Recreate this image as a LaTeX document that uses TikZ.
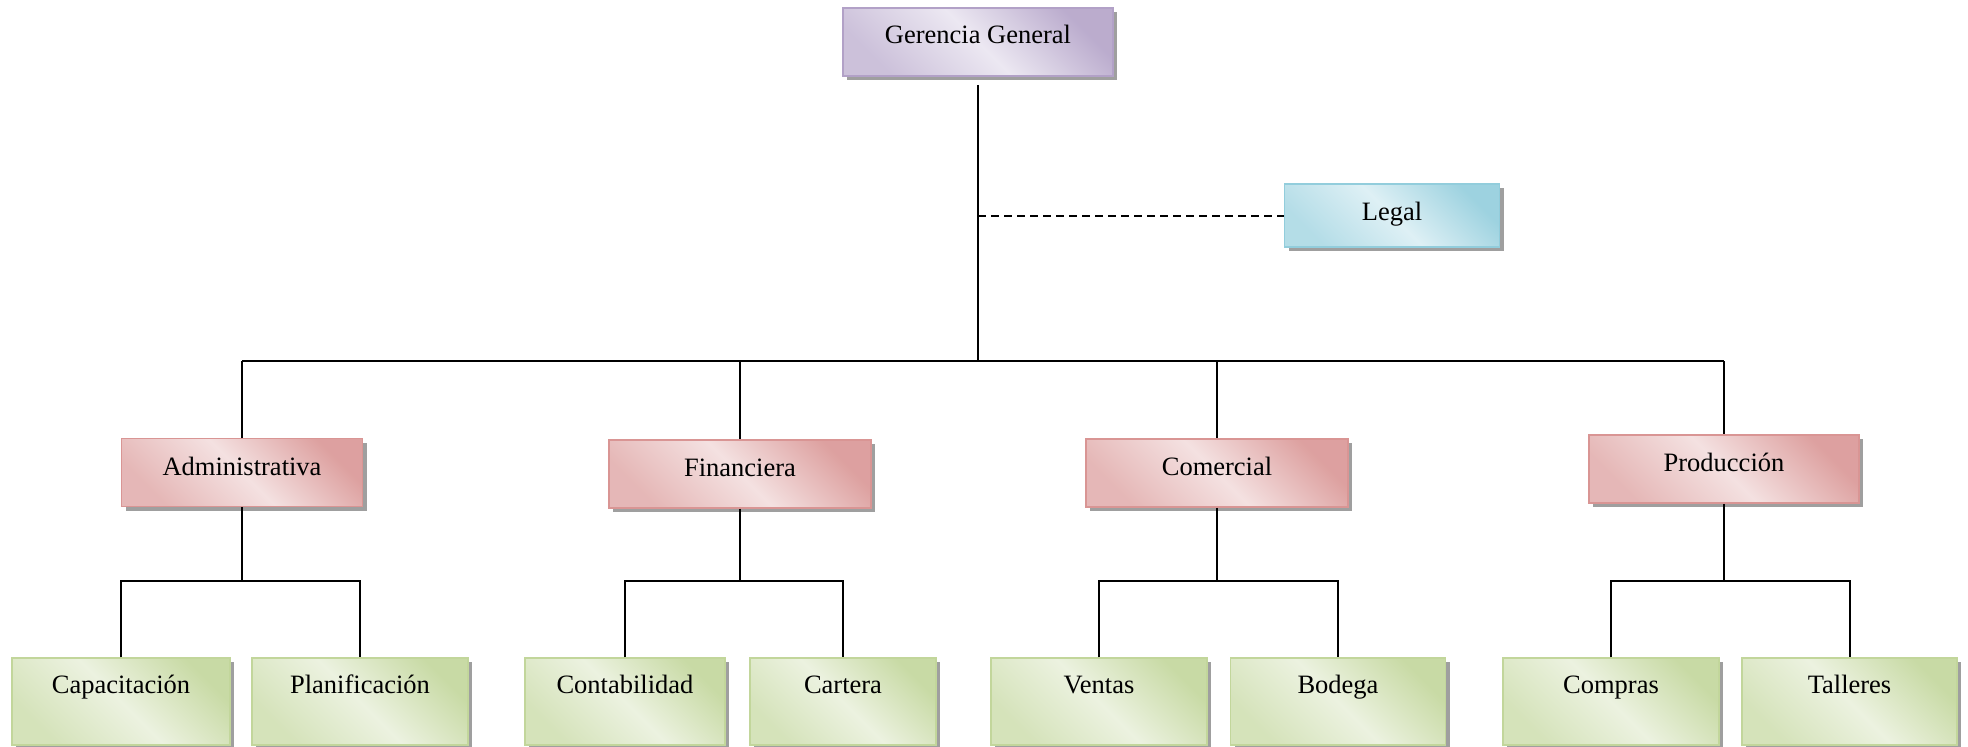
\documentclass[tikz,border=0pt]{standalone}
\usepackage{fontspec}
\setmainfont{Liberation Serif}
\usetikzlibrary{shadows}

\definecolor{purD}{HTML}{B2A1C7}\definecolor{purL}{HTML}{ECE8F2}
\definecolor{pnkD}{HTML}{D99594}\definecolor{pnkL}{HTML}{F4E1E1}
\definecolor{bluD}{HTML}{92CDDC}\definecolor{bluL}{HTML}{DEF0F5}
\definecolor{grnD}{HTML}{C2D69B}\definecolor{grnL}{HTML}{ECF2E0}

\tikzset{
  orgbox/.style 2 args={draw=#1, line width=1.5pt, shading=axis,
    top color=#1!85!#2, bottom color=#1!55!#2, middle color=#2, shading angle=-45,
    drop shadow={shadow xshift=4pt, shadow yshift=-4pt, fill=gray!75, opacity=1},
    inner sep=0pt, font=\fontsize{26.5}{30}\selectfont},
  topbox/.style={orgbox={purD}{purL}, text height=18pt, text depth=16pt},
  staffbox/.style={orgbox={bluD}{bluL}, text height=18pt, text depth=9pt},
  deptbox/.style={orgbox={pnkD}{pnkL}, minimum height=68pt, text height=18pt, text depth=13pt},
  unitbox/.style={orgbox={grnD}{grnL}, minimum height=87pt, text height=20pt, text depth=36pt},
  conn/.style={line width=2pt, black},
  advisory/.style={conn, dash pattern=on 8pt off 5pt}
}

\begin{document}
\begin{tikzpicture}[x=1pt, y=-1pt]
  \useasboundingbox (0,0) rectangle (1968,747);

  % top management and staff unit
  \node[topbox, minimum width=270pt, minimum height=68pt] (gg) at (978,42) {Gerencia General};
  \node[staffbox, minimum width=215pt, minimum height=63pt] (legal) at (1392,215.5) {Legal};

  % departments
  \node[deptbox, minimum width=241pt] (adm)  at (242,472.5) {Administrativa};
  \node[deptbox, minimum width=262pt] (fin)  at (740,474)   {Financiera};
  \node[deptbox, minimum width=262pt] (com)  at (1217,473)  {Comercial};
  \node[deptbox, minimum width=270pt] (prod) at (1724,469)  {Producción};

  % units
  \node[unitbox, minimum width=218pt] (cap)  at (121,701.5)    {Capacitación};
  \node[unitbox, minimum width=216pt] (plan) at (360,701.5)    {Planificación};
  \node[unitbox, minimum width=200pt] (cont) at (625,701.5)    {Contabilidad};
  \node[unitbox, minimum width=186pt] (cart) at (843,701.5)    {Cartera};
  \node[unitbox, minimum width=216pt] (vent) at (1099,701.5)   {Ventas};
  \node[unitbox, minimum width=215pt] (bod)  at (1338,701.5)   {Bodega};
  \node[unitbox, minimum width=216pt] (comp) at (1611,701.5)   {Compras};
  \node[unitbox, minimum width=215pt] (tall) at (1849.5,701.5) {Talleres};

  % bus levels
  \coordinate (bus) at (978,361);
  \coordinate (sub) at (0,581);

  % trunk, advisory link and department bus
  \draw[conn, shorten <=8pt] (gg.south) -- (gg.south |- bus);
  \draw[advisory] (legal.west -| gg.south) -- (legal.west);
  \draw[conn] (adm.north |- bus) -- (prod.north |- bus);
  \foreach \d in {adm,fin,com,prod}
    \draw[conn] (\d.north |- bus) -- (\d.north);

  % department to unit branches
  \foreach \d/\a/\b in {adm/cap/plan, fin/cont/cart, com/vent/bod, prod/comp/tall}{
    \draw[conn] (\d.south) -- (\d.south |- sub);
    \draw[conn] (\a.north) |- (\b.north |- sub) -- (\b.north);
  }
\end{tikzpicture}
\end{document}
